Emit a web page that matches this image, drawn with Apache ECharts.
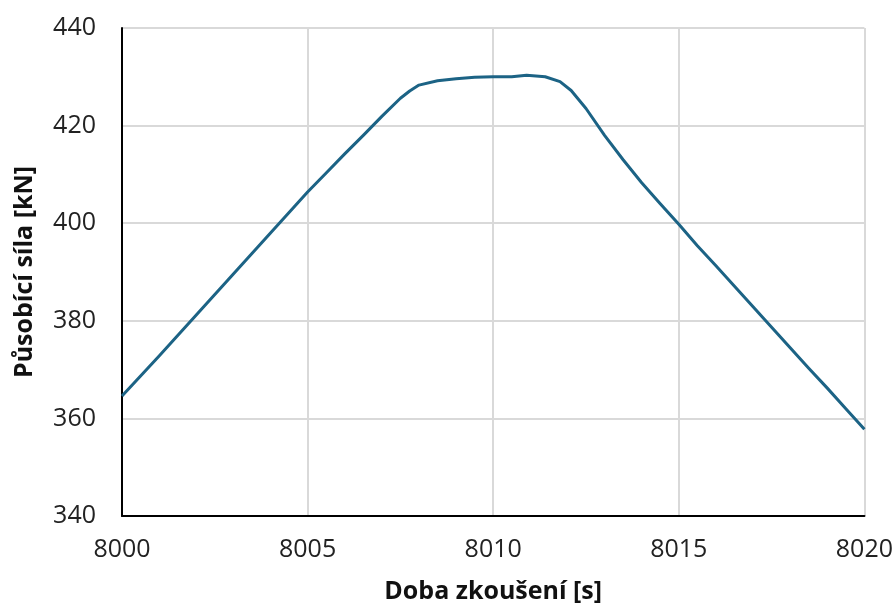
<!DOCTYPE html>
<html>
<head>
<meta charset="utf-8">
<script src="https://cdn.jsdelivr.net/npm/echarts@6/dist/echarts.min.js"></script>
<style>html,body{margin:0;padding:0;background:#fff;}#c{width:896px;height:609px;}</style>
</head>
<body>
<div id="c"></div>
<script>
const timeValues = [8000.0, 8000.5, 8001.0, 8001.5, 8002.0, 8002.5, 8003.0, 8003.5, 8004.0, 8004.5,
  8005.0, 8005.5, 8006.0, 8006.5, 8007.0, 8007.5, 8007.75, 8008.0, 8008.5, 8009.0,
  8009.5, 8010.0, 8010.5, 8010.9, 8011.4, 8011.8, 8012.1, 8012.5, 8013.0, 8013.5,
  8014.0, 8014.5, 8015.0, 8015.5, 8016.0, 8016.5, 8017.0, 8017.5, 8018.0, 8018.5,
  8019.0, 8019.5, 8020.0];
const forceValues = [364.6, 368.7, 372.8, 377.0, 381.2, 385.4, 389.6, 393.8, 398.0, 402.2,
  406.4, 410.3, 414.2, 418.0, 421.9, 425.6, 427.1, 428.3, 429.2, 429.6,
  429.9, 430.0, 430.0, 430.3, 430.0, 429.0, 427.2, 423.5, 418.0, 413.0,
  408.3, 404.0, 399.8, 395.4, 391.3, 387.1, 382.9, 378.7, 374.5, 370.3,
  366.2, 362.0, 357.8];
const xTicks = [8000, 8005, 8010, 8015, 8020];
const yTicks = [340, 360, 380, 400, 420, 440];
const xTitle = 'Doba zkoušení [s]';
const yTitle = 'Působící síla [kN]';

const chart = echarts.init(document.getElementById('c'), null, {renderer: 'canvas'});
const font = '"Open Sans", "Noto Sans", sans-serif';
chart.setOption({
  animation: false,
  backgroundColor: '#ffffff',
  grid: {left: 122, right: 31, top: 28, bottom: 87, containLabel: false},
  xAxis: {
    type: 'value',
    min: xTicks[0], max: xTicks[xTicks.length - 1], interval: 5,
    name: xTitle, nameLocation: 'middle', nameGap: 63,
    nameTextStyle: {fontFamily: font, fontSize: 25, fontWeight: 'bold', color: '#111'},
    axisLine: {show: true, lineStyle: {color: '#000', width: 2}},
    axisTick: {show: false},
    axisLabel: {fontFamily: font, fontSize: 25, color: '#222', margin: 21, formatter: v => String(v)},
    splitLine: {show: true, lineStyle: {color: '#d9d9d9', width: 2}}
  },
  yAxis: {
    type: 'value',
    min: yTicks[0], max: yTicks[yTicks.length - 1], interval: 20,
    name: yTitle, nameLocation: 'middle', nameGap: 85,
    nameTextStyle: {fontFamily: font, fontSize: 25, fontWeight: 'bold', color: '#111'},
    axisLine: {show: true, lineStyle: {color: '#000', width: 2}},
    axisTick: {show: false},
    axisLabel: {fontFamily: font, fontSize: 25, color: '#222', margin: 26, formatter: v => String(v)},
    splitLine: {show: true, lineStyle: {color: '#d9d9d9', width: 2}}
  },
  series: [{
    type: 'line',
    data: timeValues.map((t, i) => [t, forceValues[i]]),
    showSymbol: false,
    smooth: false,
    lineStyle: {color: '#1c6385', width: 3, join: 'round'},
    itemStyle: {color: '#1c6385'}
  }]
});
</script>
</body>
</html>
